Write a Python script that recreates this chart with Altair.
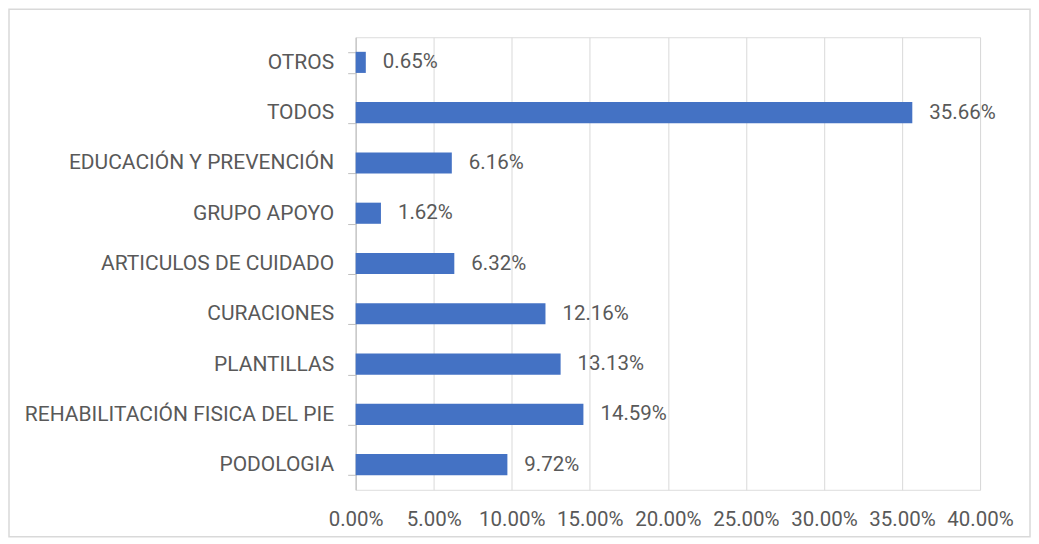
import altair as alt
import pandas as pd

categories = ["OTROS", "TODOS", "EDUCACIÓN Y PREVENCIÓN", "GRUPO APOYO",
              "ARTICULOS DE CUIDADO", "CURACIONES", "PLANTILLAS",
              "REHABILITACIÓN FISICA DEL PIE", "PODOLOGIA"]
values = [0.0065, 0.3566, 0.0616, 0.0162, 0.0632, 0.1216, 0.1313, 0.1459, 0.0972]
tick_values = [0.0, 0.05, 0.10, 0.15, 0.20, 0.25, 0.30, 0.35, 0.40]

df = pd.DataFrame({"cat": categories, "val": values})

FONT = "Roboto"
FS = 20.5
TXT = "#595959"
W, H = 625, 453

y_enc = alt.Y("cat:N", sort=categories,
              scale=alt.Scale(paddingInner=0.58, paddingOuter=0.29),
              axis=alt.Axis(title=None, domainColor="#bfbfbf", tickColor="#bfbfbf",
                            tickSize=8, tickBand="extent", labelPadding=14,
                            labelFont=FONT, labelFontSize=21, labelColor=TXT,
                            labelLimit=400, grid=False))
x_enc = alt.X("val:Q", scale=alt.Scale(domain=[0, 0.4], nice=False),
              axis=alt.Axis(title=None, format=".2%", values=tick_values,
                            domain=False, ticks=False, grid=True, gridColor="#d9d9d9",
                            labelOverlap=False, labelFlush=False, labelPadding=20,
                            labelFont=FONT, labelFontSize=FS, labelColor=TXT))

base = alt.Chart(df)
bars = base.mark_bar(color="#4472c4").encode(x=x_enc, y=y_enc)
labels = base.mark_text(align="left", dx=17, font=FONT, fontSize=FS, color=TXT).encode(
    x="val:Q", y=alt.Y("cat:N", sort=categories), text=alt.Text("val:Q", format=".2%"))

frame = alt.Chart(pd.DataFrame({"a": [0]})).mark_rect(
    fill=None, stroke="#d9d9d9", strokeWidth=1.5).encode(
    x=alt.value(-347), x2=alt.value(675), y=alt.value(-28), y2=alt.value(500))

chart = alt.layer(frame, bars, labels).properties(
    width=W, height=H, padding=0
).configure_view(stroke=None).configure(background="white")

chart.save("out.html", embed_options={"renderer": "svg", "actions": False})
